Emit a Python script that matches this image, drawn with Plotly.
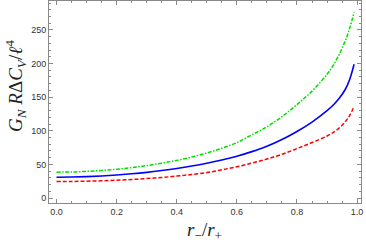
import plotly.graph_objects as go

x_vals = [0.0, 0.05, 0.1, 0.15, 0.2, 0.25, 0.3, 0.35, 0.4, 0.45, 0.5, 0.55, 0.6, 0.65, 0.7, 0.75,
          0.8, 0.85, 0.9, 0.92, 0.94, 0.96, 0.975, 0.99]
green_vals = [38.5, 38.8, 39.6, 41, 42.8, 45.2, 48.2, 51.8, 56, 61, 67, 74, 82.5, 94, 106, 121,
              139, 159, 184, 197, 213, 233, 252, 276]
blue_vals = [31, 31.2, 31.8, 32.8, 34.2, 36, 38.2, 40.9, 44, 47.6, 51.8, 56.6, 62.2, 69, 77, 87,
             99, 113, 130, 138, 148, 161, 176, 199]
red_vals = [24.5, 24.6, 25, 25.6, 26.4, 27.5, 28.9, 30.6, 32.6, 35, 37.8, 42, 46.5, 52, 58, 65,
            73.5, 82.5, 92.2, 97.4, 104, 113, 122.5, 136]

x_ticks = [0.0, 0.2, 0.4, 0.6, 0.8, 1.0]
x_tick_labels = ["0.0", "0.2", "0.4", "0.6", "0.8", "1.0"]
y_ticks = [0, 50, 100, 150, 200, 250]

fig = go.Figure()
fig.add_trace(go.Scatter(x=x_vals, y=red_vals, mode="lines",
                         line=dict(color="#ff0000", width=1.5, dash="4px,2px", shape="spline")))
fig.add_trace(go.Scatter(x=x_vals, y=blue_vals, mode="lines",
                         line=dict(color="#0000ff", width=1.6, shape="spline")))
fig.add_trace(go.Scatter(x=x_vals, y=green_vals, mode="lines",
                         line=dict(color="#00e000", width=1.5, dash="4px,1.5px,1.5px,1.5px", shape="spline")))

axis_common = dict(
    showline=True, linecolor="#8a8a8a", linewidth=1, mirror="allticks",
    ticks="inside", ticklen=4, tickcolor="#8a8a8a", showgrid=False, zeroline=False,
    automargin=False,
    tickfont=dict(family="Liberation Sans", size=9, color="#333333"),
)

fig.update_xaxes(range=[-0.025, 1.013], tickvals=x_ticks, ticktext=x_tick_labels,
                 minor=dict(dtick=0.05, ticks="inside", ticklen=2, tickcolor="#8a8a8a"),
                 **axis_common)
fig.update_yaxes(range=[-7.4, 293], tickvals=y_ticks,
                 minor=dict(dtick=10, ticks="inside", ticklen=2, tickcolor="#8a8a8a"),
                 **axis_common)

title_font = dict(family="Liberation Serif", size=19, color="#222222")
fig.add_annotation(text="<i>r</i><sub>−</sub>/<i>r</i><sub>+</sub>", xref="paper", yref="paper",
                   x=0.497, y=-0.139, xanchor="center", yanchor="middle", showarrow=False, font=title_font)
fig.add_annotation(text="<i>G<sub>N</sub> R</i>Δ<i>C<sub>V</sub></i>/<i>ℓ</i><sup>4</sup>",
                   xref="paper", yref="paper", x=-0.109, y=0.579, xanchor="center", yanchor="middle",
                   textangle=-90, showarrow=False, font=title_font)

fig.update_layout(width=366, height=246, margin=dict(l=49, r=5, t=1, b=43),
                  paper_bgcolor="white", plot_bgcolor="white", showlegend=False)
fig.write_html("out.html", config={"displayModeBar": False},
               post_script="document.body.style.margin='0';document.body.style.overflow='hidden';")
